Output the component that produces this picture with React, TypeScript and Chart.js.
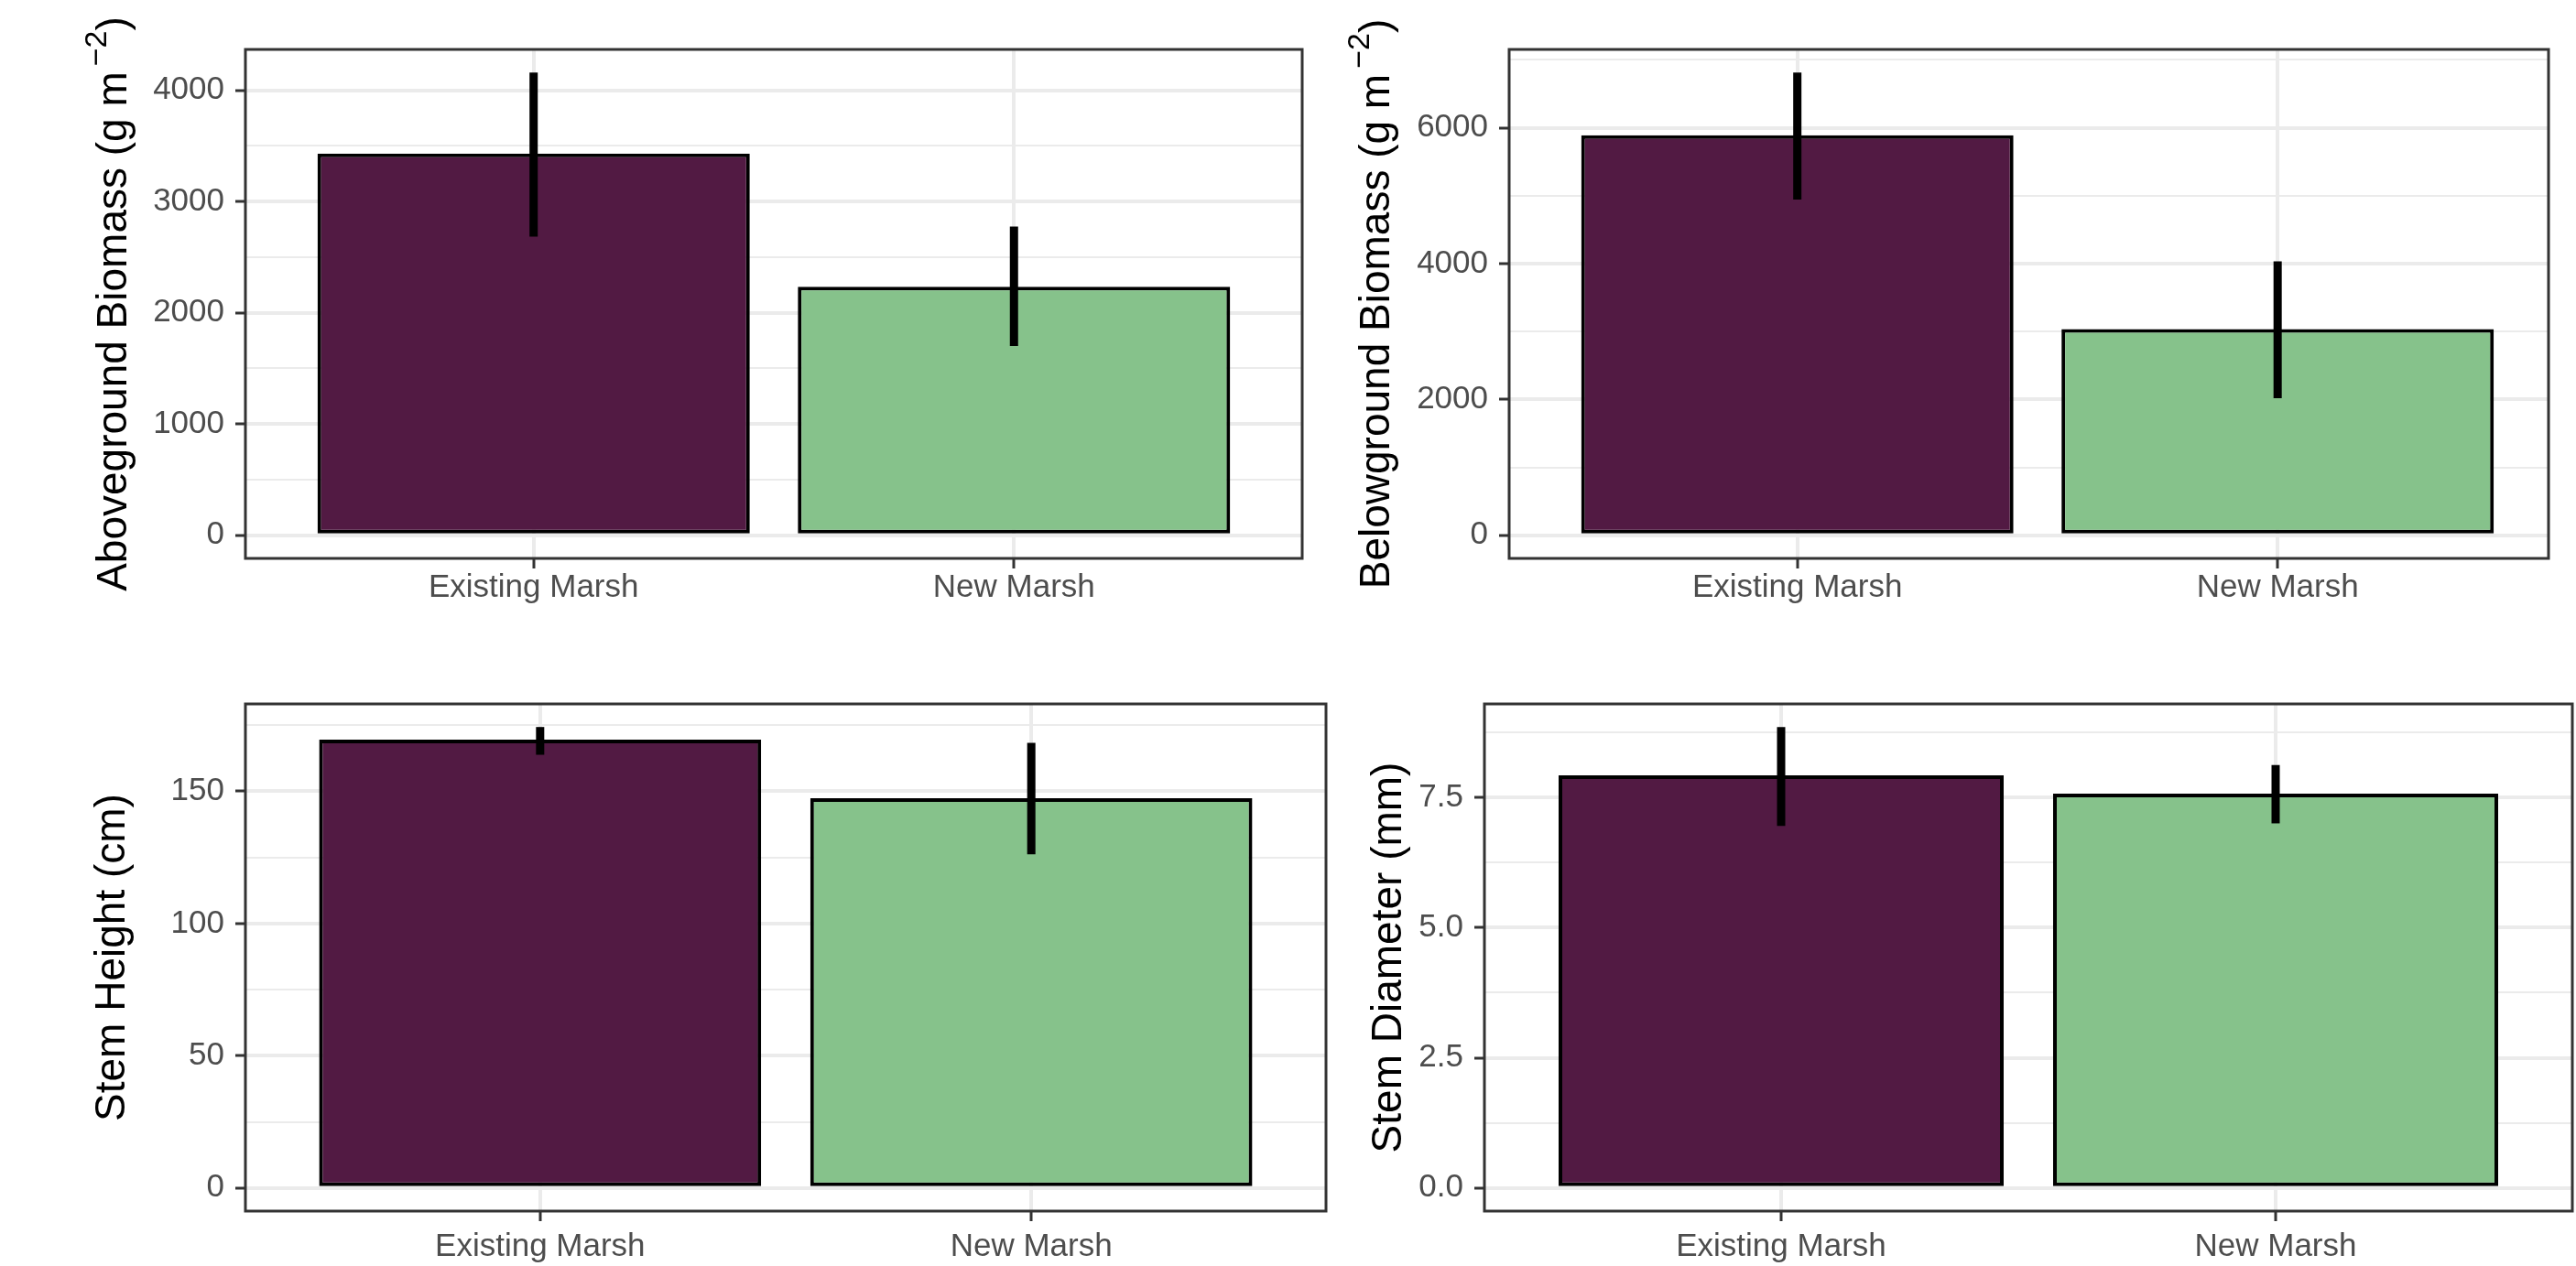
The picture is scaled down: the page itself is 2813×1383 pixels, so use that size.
import React, { useEffect, useRef } from 'react';
import { Chart, registerables } from 'chart.js';

Chart.register(...registerables);

const FONT = '"Liberation Sans", Arial, Helvetica, sans-serif';

const categories = ['Existing Marsh', 'New Marsh'];
const barColors = ['#521A43', '#86C28B'];

const aboveMean = [3432, 2233];
const aboveLow = [2685, 1700];
const aboveHigh = [4159, 2775];
const aboveTicks = [0, 1000, 2000, 3000, 4000];
const aboveMinorTicks = [500, 1500, 2500, 3500];

const belowMean = [5890, 3035];
const belowLow = [4943, 2017];
const belowHigh = [6813, 4032];
const belowTicks = [0, 2000, 4000, 6000];
const belowMinorTicks = [1000, 3000, 5000, 7000];

const heightMean = [169.5, 147.4];
const heightLow = [163.8, 126.2];
const heightHigh = [174.3, 168.3];
const heightTicks = [0, 50, 100, 150];
const heightMinorTicks = [25, 75, 125, 175];

const diameterMean = [7.92, 7.57];
const diameterLow = [6.95, 7.0];
const diameterHigh = [8.85, 8.12];
const diameterTicks = [0, 2.5, 5, 7.5];
const diameterMinorTicks = [1.25, 3.75, 6.25, 8.75];

type Panel = {
  key: string;
  mean: number[];
  low: number[];
  high: number[];
  majors: number[];
  minors: number[];
  decimals: number;
  titleMain: string;
  titleSup?: string;
  titleTail?: string;
  xMax: number;
  xLabelPad: number;
  cx: number; cy: number; cw: number; ch: number;
  pl: number; pt: number; pr: number; pb: number;
  titleOffset: number;
};

const panels: Panel[] = [
  {
    key: 'above', mean: aboveMean, low: aboveLow, high: aboveHigh,
    majors: aboveTicks, minors: aboveMinorTicks, decimals: 0,
    titleMain: 'Aboveground Biomass (g m', titleSup: '\u22122', titleTail: ')', xMax: 2.6, xLabelPad: 4,
    cx: 0, cy: 0, cw: 1440, ch: 690, pl: 268, pt: 54, pr: 1422, pb: 610, titleOffset: 130,
  },
  {
    key: 'below', mean: belowMean, low: belowLow, high: belowHigh,
    majors: belowTicks, minors: belowMinorTicks, decimals: 0,
    titleMain: 'Belowground Biomass (g m', titleSup: '\u22122', titleTail: ')', xMax: 2.564, xLabelPad: 4,
    cx: 1440, cy: 0, cw: 1373, ch: 690, pl: 1648, pt: 54, pr: 2783, pb: 610, titleOffset: 131,
  },
  {
    key: 'height', mean: heightMean, low: heightLow, high: heightHigh,
    majors: heightTicks, minors: heightMinorTicks, decimals: 0,
    titleMain: 'Stem Height (cm)', xMax: 2.6, xLabelPad: 11,
    cx: 0, cy: 690, cw: 1470, ch: 693, pl: 268, pt: 769, pr: 1448, pb: 1323, titleOffset: 132,
  },
  {
    key: 'diameter', mean: diameterMean, low: diameterLow, high: diameterHigh,
    majors: diameterTicks, minors: diameterMinorTicks, decimals: 1,
    titleMain: 'Stem Diameter (mm)', xMax: 2.6, xLabelPad: 11,
    cx: 1470, cy: 690, cw: 1343, ch: 693, pl: 1621, pt: 769, pr: 2809, pb: 1323, titleOffset: 91,
  },
];

function PanelChart({ p }: { p: Panel }) {
  const ref = useRef<HTMLCanvasElement | null>(null);
  useEffect(() => {
    if (!ref.current) return;
    const maxHigh = Math.max(...p.high);
    const yMin = -0.05 * maxHigh;
    const yMax = 1.05 * maxHigh;
    const yWidth = p.pl - p.cx;
    const padTop = p.pt - p.cy;
    const padRight = p.cx + p.cw - p.pr;
    const xHeight = p.cy + p.ch - p.pb;
    const isMajor = (v: number) => p.majors.some((m) => Math.abs(m - v) < 1e-9);
    const allTicks = [...p.majors, ...p.minors].sort((a, b) => a - b);

    const decor = {
      id: 'decor' + p.key,
      afterDatasetsDraw(chart: any) {
        const { ctx, chartArea: a, scales } = chart;
        const x = scales.x;
        const y = scales.y;
        ctx.save();
        ctx.strokeStyle = '#000000';
        ctx.lineWidth = 9;
        ctx.lineCap = 'butt';
        p.low.forEach((lo, i) => {
          const px = x.getPixelForValue(i + 1);
          ctx.beginPath();
          ctx.moveTo(px, y.getPixelForValue(lo));
          ctx.lineTo(px, y.getPixelForValue(p.high[i]));
          ctx.stroke();
        });
        ctx.strokeStyle = '#333333';
        ctx.lineWidth = 3;
        ctx.strokeRect(a.left, a.top, a.right - a.left, a.bottom - a.top);
        ctx.restore();
      },
      afterDraw(chart: any) {
        const { ctx, chartArea: a } = chart;
        const bx = a.left - p.titleOffset;
        const yc = (a.top + a.bottom) / 2;
        ctx.save();
        ctx.translate(bx, yc);
        ctx.rotate(-Math.PI / 2);
        ctx.fillStyle = '#000000';
        ctx.textBaseline = 'alphabetic';
        ctx.textAlign = 'left';
        const big = `46px ${FONT}`;
        const small = `34px ${FONT}`;
        ctx.font = big;
        const w1 = ctx.measureText(p.titleMain).width;
        let w2 = 0, w3 = 0;
        if (p.titleSup) {
          ctx.font = small;
          w2 = ctx.measureText(p.titleSup).width;
          ctx.font = big;
          w3 = ctx.measureText(p.titleTail || '').width;
        }
        const gap = p.titleSup ? 6 : 0;
        const total = w1 + gap + w2 + w3;
        let cx = -total / 2;
        ctx.font = big;
        ctx.fillText(p.titleMain, cx, 0);
        cx += w1;
        if (p.titleSup) {
          cx += gap;
          ctx.font = small;
          ctx.fillText(p.titleSup, cx, -22);
          cx += w2;
          ctx.font = big;
          ctx.fillText(p.titleTail || '', cx, 0);
        }
        ctx.restore();
      },
    };

    const chart = new Chart(ref.current, {
      type: 'bar',
      data: {
        datasets: [
          {
            data: categories.map((c, i) => ({ x: i + 1, y: p.mean[i] })) as any,
            backgroundColor: barColors,
            borderColor: '#000000',
            borderWidth: 4,
            borderSkipped: false,
            barPercentage: 0.9,
            categoryPercentage: 1,
          },
        ],
      },
      options: {
        animation: false,
        responsive: false,
        devicePixelRatio: 1,
        layout: { padding: { left: 0, top: padTop, right: padRight, bottom: 0 } },
        plugins: { legend: { display: false }, tooltip: { enabled: false }, title: { display: false } },
        scales: {
          x: {
            type: 'linear',
            min: 0.4,
            max: p.xMax,
            offset: false,
            border: { display: false },
            grid: {
              offset: false,
              color: '#EBEBEB',
              lineWidth: 4,
              drawTicks: true,
              tickLength: 11,
              tickColor: '#333333',
              tickWidth: 3,
            },
            ticks: {
              autoSkip: false,
              maxRotation: 0,
              minRotation: 0,
              padding: p.xLabelPad,
              color: '#4D4D4D',
              font: { family: FONT, size: 35, lineHeight: 1 },
              callback: (v: any) => {
                const idx = Math.round(Number(v)) - 1;
                return categories[idx] ?? '';
              },
            },
            afterBuildTicks: (s: any) => {
              s.ticks = categories.map((c, i) => ({ value: i + 1 }));
            },
            afterFit: (s: any) => { s.height = xHeight; },
          },
          y: {
            type: 'linear',
            min: yMin,
            max: yMax,
            border: { display: false },
            grid: {
              color: '#EBEBEB',
              lineWidth: (ctx: any) => (isMajor(ctx.tick.value) ? 4 : 2),
              drawTicks: true,
              tickLength: 11,
              tickColor: (ctx: any) => (isMajor(ctx.tick.value) ? '#333333' : 'rgba(0,0,0,0)'),
              tickWidth: 3,
            },
            ticks: {
              autoSkip: false,
              padding: 12,
              color: '#4D4D4D',
              font: { family: FONT, size: 35 },
              callback: (v: any) => (isMajor(Number(v)) ? Number(v).toFixed(p.decimals) : ''),
            },
            afterBuildTicks: (s: any) => {
              s.ticks = allTicks.map((v) => ({ value: v }));
            },
            afterFit: (s: any) => { s.width = yWidth; },
          },
        },
      },
      plugins: [decor],
    } as any);
    return () => chart.destroy();
  }, [p]);
  return (
    <canvas
      ref={ref}
      width={p.cw}
      height={p.ch}
      style={{ position: 'absolute', left: p.cx, top: p.cy, width: p.cw, height: p.ch }}
    />
  );
}

export default function App() {
  return (
    <div style={{ position: 'fixed', left: 0, top: 0, width: 2813, height: 1383, background: '#ffffff', overflow: 'hidden' }}>
      {panels.map((p) => (
        <PanelChart key={p.key} p={p} />
      ))}
    </div>
  );
}
